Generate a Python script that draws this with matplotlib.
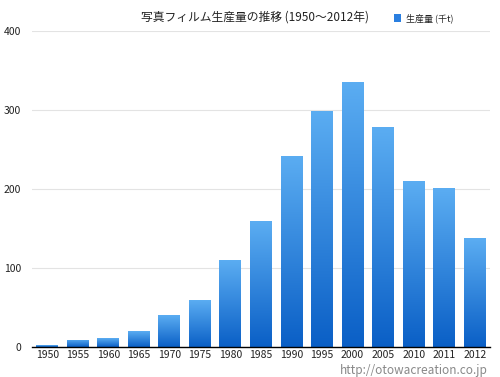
import matplotlib.pyplot as plt
import numpy as np
from matplotlib.colors import LinearSegmentedColormap
from matplotlib.patches import Rectangle

plt.rcParams['font.family'] = ['Noto Sans CJK JP', 'DejaVu Sans']

years = ['1950', '1955', '1960', '1965', '1970', '1975', '1980', '1985',
         '1990', '1995', '2000', '2005', '2010', '2011', '2012']
production = [2, 9, 11, 20, 40, 59, 110, 159, 242, 299, 335, 278, 210, 201, 138]

fig = plt.figure(figsize=(5, 3.77), dpi=100)
ax = fig.add_axes([0.064, 0.08, 0.916, 0.838])

cmap = LinearSegmentedColormap.from_list('bar', ['#0a5fc6', '#5badf2'])
grad = np.linspace(0, 1, 256).reshape(-1, 1)
x = np.arange(len(years))
w = 0.72
bars = ax.bar(x, production, width=w, color='none', zorder=2)
for b in bars:
    x0, y0 = b.get_x(), b.get_y()
    im = ax.imshow(grad, extent=[x0, x0 + w, y0, y0 + b.get_height()],
                   origin='lower', aspect='auto', cmap=cmap, zorder=2)
    im.set_clip_path(b)

ax.set_xlim(-0.5, len(years) - 0.5)
ax.set_ylim(0, 400)
ax.set_yticks([0, 100, 200, 300, 400])
ax.yaxis.grid(True, color='#e3e3e3', linewidth=0.8, zorder=0)
ax.set_axisbelow(True)
ax.set_xticks(x)
ax.set_xticklabels(years)
ax.tick_params(length=0, labelsize=7.5, colors='#222222')
ax.tick_params(axis='x', pad=2)
ax.tick_params(axis='y', pad=8)
for s in ['top', 'right', 'left']:
    ax.spines[s].set_visible(False)
ax.spines['bottom'].set_color('black')
ax.spines['bottom'].set_linewidth(1)

fig.text(0.51, 0.955, '写真フィルム生産量の推移 (1950〜2012年)', ha='center', va='center',
         fontsize=8.5, color='#222222')
fig.patches.append(Rectangle((0.788, 0.942), 0.014, 0.02, transform=fig.transFigure,
                             facecolor='#2a7fe0', edgecolor='none'))
fig.text(0.812, 0.952, '生産量 (千t)', ha='left', va='center', fontsize=6.5, color='#222222')
fig.text(0.975, 0.0, 'http://otowacreation.co.jp', ha='right', va='bottom',
         fontsize=8.5, color='#888888')

fig.savefig('out.png', dpi=100)
